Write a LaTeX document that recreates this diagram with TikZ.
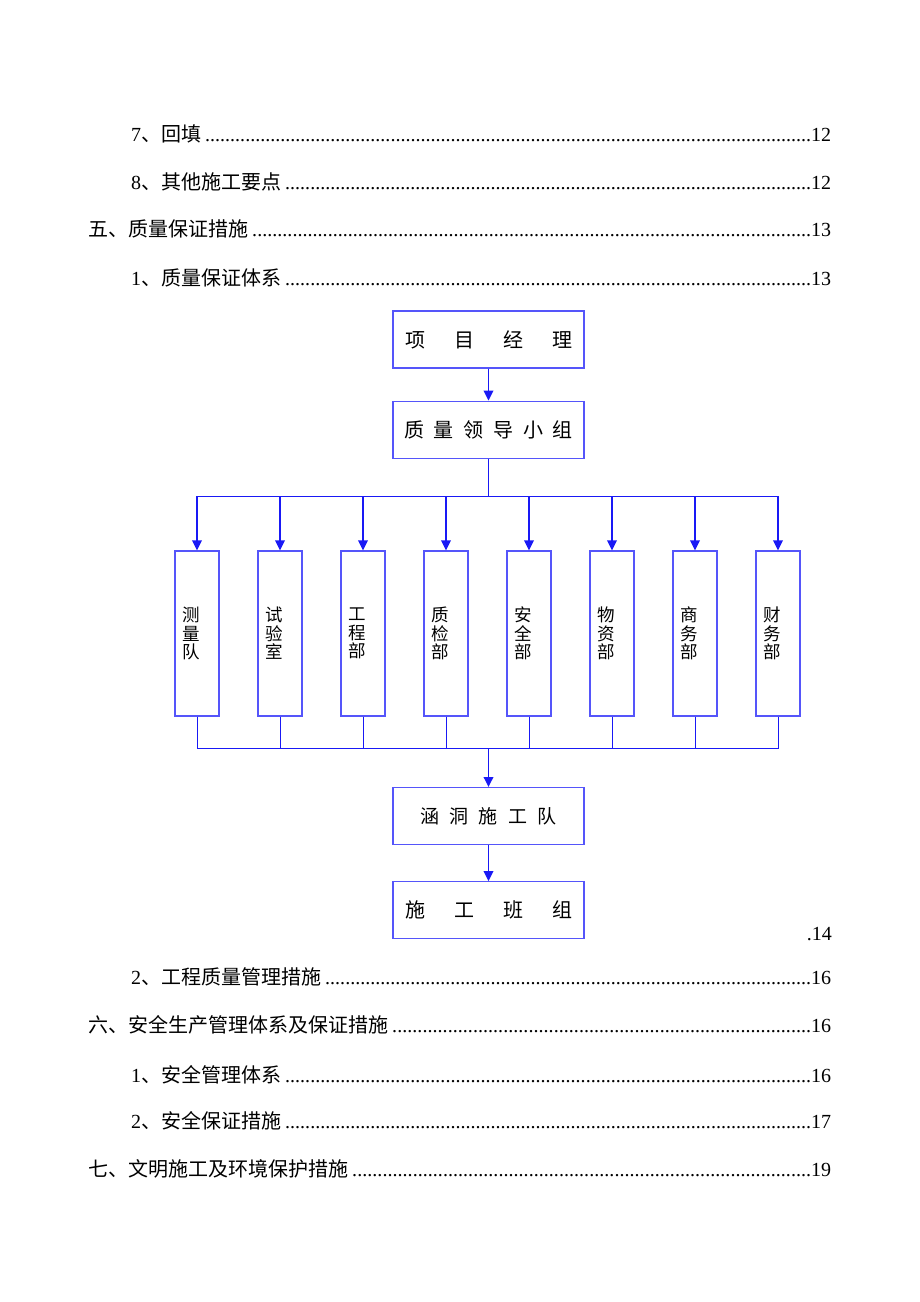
\documentclass[tikz,border=0pt]{standalone}
\usepackage{fontspec}
\setmainfont{Liberation Serif}
\newfontfamily\cjk{Noto Sans CJK SC}
\usepackage{tikz}
\usetikzlibrary{arrows.meta,positioning}

\definecolor{boxline}{RGB}{85,85,250}
\definecolor{linkline}{RGB}{25,25,245}
\newcommand{\tocdots}{\hspace{4pt}\xleaders\hbox to 5pt{\hss.\hss}\hfill}

\begin{document}
\begin{tikzpicture}[x=1pt,y=-1pt,>={Triangle[length=10pt,width=9.5pt]}]

    \useasboundingbox (0,0) rectangle (920,1302);

    \tikzstyle{tocrow}=[anchor=base west,inner sep=0pt,font=\fontsize{20pt}{24pt}\selectfont]
    \tikzstyle{subrow}=[tocrow,text width=700pt]
    \tikzstyle{secrow}=[tocrow,text width=743pt]
    \tikzstyle{headbox}=[rectangle,draw=boxline,line width=1.2pt,minimum width=191pt,minimum height=57pt,inner sep=0pt,font=\cjk\fontsize{20pt}{24pt}\selectfont]
    \tikzstyle{deptbox}=[rectangle,draw=boxline,line width=1.2pt,minimum width=44pt,minimum height=165pt,inner sep=0pt]
    \tikzstyle{deptlabel}=[align=center,xshift=-6pt,inner sep=0pt,font=\cjk\fontsize{17.5pt}{18.5pt}\selectfont]
    \tikzstyle{arrow}=[->,draw=linkline,fill=linkline,line width=1.8pt]
    \tikzstyle{bus}=[draw=linkline,line width=0.8pt]

    % contents, upper part
    \node [subrow] (t7) at (131,141) {7{\cjk 、回填}\tocdots 12};
    \node [subrow] (t8) at (131,189) {8{\cjk 、其他施工要点}\tocdots 12};
    \node [secrow] (t5) at (88,236) {{\cjk 五、质量保证措施}\tocdots 13};
    \node [subrow] (t51) at (131,285) {1{\cjk 、质量保证体系}\tocdots 13};

    % quality chart
    \node [headbox] (pm) at (488.5,339.5) {项\hspace{29pt}目\hspace{29pt}经\hspace{29pt}理};
    \node [headbox] (lead) [below=32pt of pm] {质\hspace{9.7pt}量\hspace{9.7pt}领\hspace{9.7pt}导\hspace{9.7pt}小\hspace{9.7pt}组};

    \node [deptbox,label={[deptlabel]center:测\\量\\队}] (d1) at (197,633.5) {};
    \node [deptbox,label={[deptlabel]center:试\\验\\室}] (d2) [right=37.8pt of d1] {};
    \node [deptbox,label={[deptlabel]center:工\\程\\部}] (d3) [right=37.8pt of d2] {};
    \node [deptbox,label={[deptlabel]center:质\\检\\部}] (d4) [right=37.8pt of d3] {};
    \node [deptbox,label={[deptlabel]center:安\\全\\部}] (d5) [right=37.8pt of d4] {};
    \node [deptbox,label={[deptlabel]center:物\\资\\部}] (d6) [right=37.8pt of d5] {};
    \node [deptbox,label={[deptlabel]center:商\\务\\部}] (d7) [right=37.8pt of d6] {};
    \node [deptbox,label={[deptlabel]center:财\\务\\部}] (d8) [right=37.8pt of d7] {};

    \coordinate (topbus) at (488.5,496);
    \coordinate (botbus) at (488.5,748);

    \node [headbox,font=\cjk\fontsize{19pt}{22pt}\selectfont] (team) [below=39pt of botbus] {涵\hspace{10.5pt}洞\hspace{10.5pt}施\hspace{10.5pt}工\hspace{10.5pt}队};
    \node [headbox] (crew) [below=36pt of team] {施\hspace{29pt}工\hspace{29pt}班\hspace{29pt}组};

    \draw [arrow] (pm) -- (lead);
    \draw [bus] (lead) -- (topbus);
    \draw [bus] (d1.north |- topbus) -- (d8.north |- topbus);
    \draw [arrow] (d1.north |- topbus) -- (d1);
    \draw [arrow] (d2.north |- topbus) -- (d2);
    \draw [arrow] (d3.north |- topbus) -- (d3);
    \draw [arrow] (d4.north |- topbus) -- (d4);
    \draw [arrow] (d5.north |- topbus) -- (d5);
    \draw [arrow] (d6.north |- topbus) -- (d6);
    \draw [arrow] (d7.north |- topbus) -- (d7);
    \draw [arrow] (d8.north |- topbus) -- (d8);
    \draw [bus] (d1) -- (d1.south |- botbus) -- (d8.south |- botbus) -- (d8);
    \draw [bus] (d2) -- (d2.south |- botbus);
    \draw [bus] (d3) -- (d3.south |- botbus);
    \draw [bus] (d4) -- (d4.south |- botbus);
    \draw [bus] (d5) -- (d5.south |- botbus);
    \draw [bus] (d6) -- (d6.south |- botbus);
    \draw [bus] (d7) -- (d7.south |- botbus);
    \draw [arrow] (botbus) -- (team);
    \draw [arrow] (team) -- (crew);

    \node [tocrow,anchor=base east] (pg) at (832,940) {.14};

    % contents, lower part
    \node [subrow] (t52) at (131,984) {2{\cjk 、工程质量管理措施}\tocdots 16};
    \node [secrow] (t6) at (88,1032) {{\cjk 六、安全生产管理体系及保证措施}\tocdots 16};
    \node [subrow] (t61) at (131,1082) {1{\cjk 、安全管理体系}\tocdots 16};
    \node [subrow] (t62) at (131,1128) {2{\cjk 、安全保证措施}\tocdots 17};
    \node [secrow] (t7s) at (88,1176) {{\cjk 七、文明施工及环境保护措施}\tocdots 19};
\end{tikzpicture}
\end{document}
